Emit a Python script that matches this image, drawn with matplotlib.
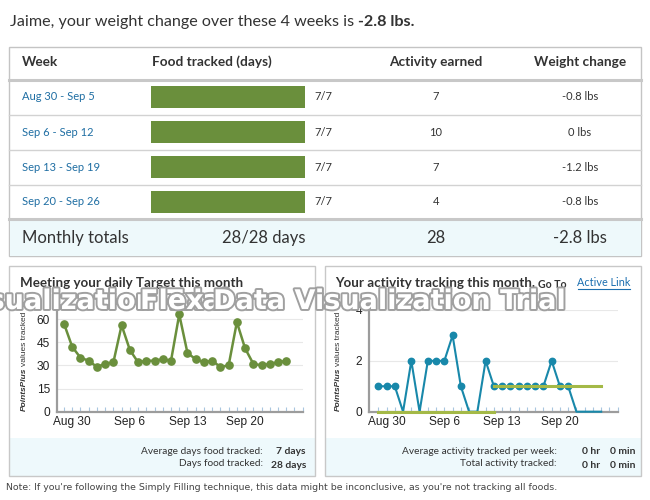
import numpy as np
import pandas as pd
import matplotlib
matplotlib.use("Agg")
import matplotlib.pyplot as plt
from matplotlib.patches import Rectangle
import matplotlib.patheffects as pe

# Weekly summary table
weeks = ["Aug 30 - Sep 5", "Sep 6 - Sep 12", "Sep 13 - Sep 19", "Sep 20 - Sep 26"]
food_days = [7, 7, 7, 7]
activity_earned = [7, 10, 7, 4]
weight_change = ["-0.8 lbs", "0 lbs", "-1.2 lbs", "-0.8 lbs"]

# Daily values (28 days)
day_dates = pd.date_range("2010-08-29", periods=28)
points_tracked = [57, 42, 35, 33, 29, 31, 32, 56, 40, 32, 33, 33, 34, 33,
                  63, 38, 34, 32, 33, 29, 30, 58, 41, 31, 30, 31, 32, 33]
activity_tracked = [1, 1, 1, 0, 2, 0, 2, 2, 2, 3, 1, 0, 0, 2,
                    1, 1, 1, 1, 1, 1, 1, 2, 1, 1, 0, 0, 0, 0]
activity_goal_old = [0, 0, 0, 0, 0, 0, 0, 0, 0, 0, 0, 0, 0, 0, 0,
                     np.nan, np.nan, np.nan, np.nan, np.nan, np.nan, np.nan,
                     np.nan, np.nan, np.nan, np.nan, np.nan, np.nan]
activity_goal_new = [np.nan] * 14 + [1, 1, 1, 1, 1, 1, 1, 1, 1, 1, 1, 1, 1, 1]
tick_dates = ["Aug 30", "Sep 6", "Sep 13", "Sep 20"]

W, H = 650, 500
fig = plt.figure(figsize=(6.5, 5), dpi=100)
fig.patch.set_facecolor("white")

UI = ["Lato", "DejaVu Sans"]
DARK = "#333333"
BLUE = "#1f6ea3"


def fx(x):
    return x / W


def fy(y):
    return 1 - y / H


def box(x0, y0, x1, y1, fc="none", ec="none", lw=1.0):
    fig.add_artist(Rectangle((fx(x0), fy(y1)), (x1 - x0) / W, (y1 - y0) / H,
                             transform=fig.transFigure, facecolor=fc,
                             edgecolor=ec, linewidth=lw))


def hline(x0, x1, y, color="#d2d2d2", lw=1.0):
    fig.add_artist(plt.Line2D([fx(x0), fx(x1)], [fy(y), fy(y)],
                              transform=fig.transFigure, color=color, linewidth=lw))


def txt(x, y, s, size, ha="left", color=DARK, weight="normal", **kw):
    return fig.text(fx(x), fy(y), s, fontsize=size, ha=ha, va="center",
                    color=color, weight=weight, family=UI, **kw)


renderer = fig.canvas.get_renderer()

# Heading
t = txt(10, 22, "Jaime, your weight change over these 4 weeks is ", 11.6)
bb = t.get_window_extent(renderer)
fig.text(bb.x1 / W, fy(22), "-2.8 lbs.", fontsize=11.6, ha="left", va="center",
         color=DARK, weight="bold", family=UI)

# Table frame
box(9, 47, 641, 256, ec="#c4c4c4")
box(9.5, 219, 640.5, 255.5, fc="#eef9fb")
hline(9, 641, 80, "#c8c8c8", 2.2)
hline(9, 641, 115)
hline(9, 641, 150)
hline(9, 641, 184.5)
hline(9, 641, 219, "#c8c8c8", 2.2)

txt(22, 62, "Week", 9.8, weight="bold")
txt(152, 62, "Food tracked (days)", 9.8, weight="bold")
txt(436, 62, "Activity earned", 9.8, ha="center", weight="bold")
txt(580, 62, "Weight change", 9.8, ha="center", weight="bold")

row_y = [97, 132, 167, 201.5]
for i in range(4):
    txt(22, row_y[i], weeks[i], 8.0, color=BLUE)
    txt(314, row_y[i], f"{food_days[i]}/7", 8.0)
    txt(436, row_y[i], str(activity_earned[i]), 8.0, ha="center")
    txt(580, row_y[i], weight_change[i], 8.0, ha="center")

# food bars drawn on their own axes
axb = fig.add_axes([fx(151), fy(219), (305 - 151) / W, (219 - 80) / H])
axb.barh(range(4), food_days, height=22 / 34.75, color="#6a8f3c")
axb.set_xlim(0, 7)
axb.set_ylim(3.5, -0.5)
axb.axis("off")

txt(22, 238, "Monthly totals", 12)
txt(305, 238, f"{sum(food_days)}/28 days", 12, ha="right")
txt(436, 238, str(sum(activity_earned)), 12, ha="center")
txt(580, 238, "-2.8 lbs", 12, ha="center")

# Lower panels
for x0, x1 in [(9, 315), (325, 641)]:
    box(x0 + 0.5, 437.5, x1 - 0.5, 476, fc="#eef9fc")
    box(x0, 266, x1, 476, ec="#c8c8c8")

txt(20, 283, "Meeting your daily Target this month", 9.6, weight="bold")
t = txt(335, 283, "Your activity tracking this month.", 9.6, weight="bold")
bb = t.get_window_extent(renderer)
fig.text(bb.x1 / W + 0.004, fy(284), "Go To", fontsize=7.6, ha="left",
         va="center", color=DARK, weight="bold", family=UI)
txt(630, 283, "Active Link", 7.8, ha="right", color="#1b6fb0")
fig.add_artist(plt.Line2D([fx(578), fx(630)], [fy(289), fy(289)],
                          transform=fig.transFigure, color="#1b6fb0", lw=0.8))

txt(263, 451, "Average days food tracked:", 7.3, ha="right")
txt(306, 451, "7 days", 7.4, ha="right", weight="bold")
txt(263, 464, "Days food tracked:", 7.3, ha="right")
txt(306, 465, "28 days", 7.4, ha="right", weight="bold")

txt(557, 451, "Average activity tracked per week:", 7.3, ha="right")
txt(557, 464, "Total activity tracked:", 7.3, ha="right")
for yy in (451, 465):
    txt(582, yy, "0 hr", 7.4, weight="bold")
    txt(610, yy, "0 min", 7.4, weight="bold")

fig.text(fx(6), fy(488), "Note: If you're following the Simply Filling technique, "
         "this data might be inconclusive, as you're not tracking all foods.",
         fontsize=6.75, ha="left", va="center", color="#444444",
         family="DejaVu Sans")

days = np.arange(len(day_dates))
tick_pos = [list(day_dates.strftime("%b %-d")).index(d) for d in tick_dates]


def style_axis(ax):
    for s in ("top", "right"):
        ax.spines[s].set_visible(False)
    for s in ("left", "bottom"):
        ax.spines[s].set_color("#9c9c9c")
        ax.spines[s].set_linewidth(1.6)
    ax.set_xticks(tick_pos)
    ax.set_xticklabels(tick_dates)
    ax.set_xticks(np.arange(0, 30), minor=True)
    ax.tick_params(axis="x", which="both", direction="in", length=3.5,
                   color="#a9c6df", width=0.8, labelsize=8.6, labelcolor="#222222",
                   pad=3)
    ax.tick_params(axis="y", length=0, labelsize=8.6, labelcolor="#222222", pad=5)
    for lab in ax.get_xticklabels() + ax.get_yticklabels():
        lab.set_family("Liberation Sans")
    ax.grid(axis="y", color="#e8e8e8", linewidth=0.8)
    ax.set_axisbelow(True)


# Left chart: daily PointsPlus tracked
ax1 = fig.add_axes([fx(57), fy(411.7), (303.3 - 57) / W, (411.7 - 306.7) / H])
ax1.plot(days, points_tracked, color="#6a8f3c", lw=1.8, marker="o",
         markersize=5.2, zorder=3, clip_on=False)
ax1.set_xlim(-0.85, 29.07)
ax1.set_ylim(0, 68)
ax1.set_yticks([0, 15, 30, 45, 60])
style_axis(ax1)

# Right chart: daily activity tracked
ax2 = fig.add_axes([fx(369.3), fy(411.7), (617.7 - 369.3) / W, (411.7 - 310) / H])
marks = [i for i, v in enumerate(activity_tracked) if v > 0]
ax2.plot(days, activity_goal_old, color="#a4b947", lw=2.2, zorder=4, clip_on=False)
ax2.plot(days, activity_tracked, color="#1888aa", lw=1.5, marker="o",
         markersize=4.6, markevery=marks, zorder=3, clip_on=False)
ax2.plot(days, activity_goal_new, color="#a4b947", lw=2.2, zorder=5)
ax2.set_xlim(-1.09, 28.93)
ax2.set_ylim(0, 4)
ax2.set_yticks([0, 2, 4])
style_axis(ax2)

# rotated y labels, two styles joined end to end
for xl in (24.5, 338):
    t = fig.text(fx(xl), fy(411), "PointsPlus", rotation=90, fontsize=6.0,
                 ha="center", va="bottom", color=DARK, weight="bold",
                 style="italic", family="Liberation Sans")
    bb = t.get_window_extent(renderer)
    fig.text(fx(xl), bb.y1 / H + 0.003, "values tracked", rotation=90,
             fontsize=6.0, ha="center", va="bottom", color=DARK,
             family="Liberation Sans")

# trial watermark
wm = dict(fontsize=19.5, color="white", weight="bold", va="center",
          family="DejaVu Sans",
          path_effects=[pe.withStroke(linewidth=2.8, foreground="#a0a0a0")])
fig.text(fx(230), fy(302), "Data Visualization Trial", ha="right", **wm)
fig.text(fx(140), fy(302), "Flex Data Visualization Trial", ha="left", **wm)

fig.savefig("out.png", dpi=100)
